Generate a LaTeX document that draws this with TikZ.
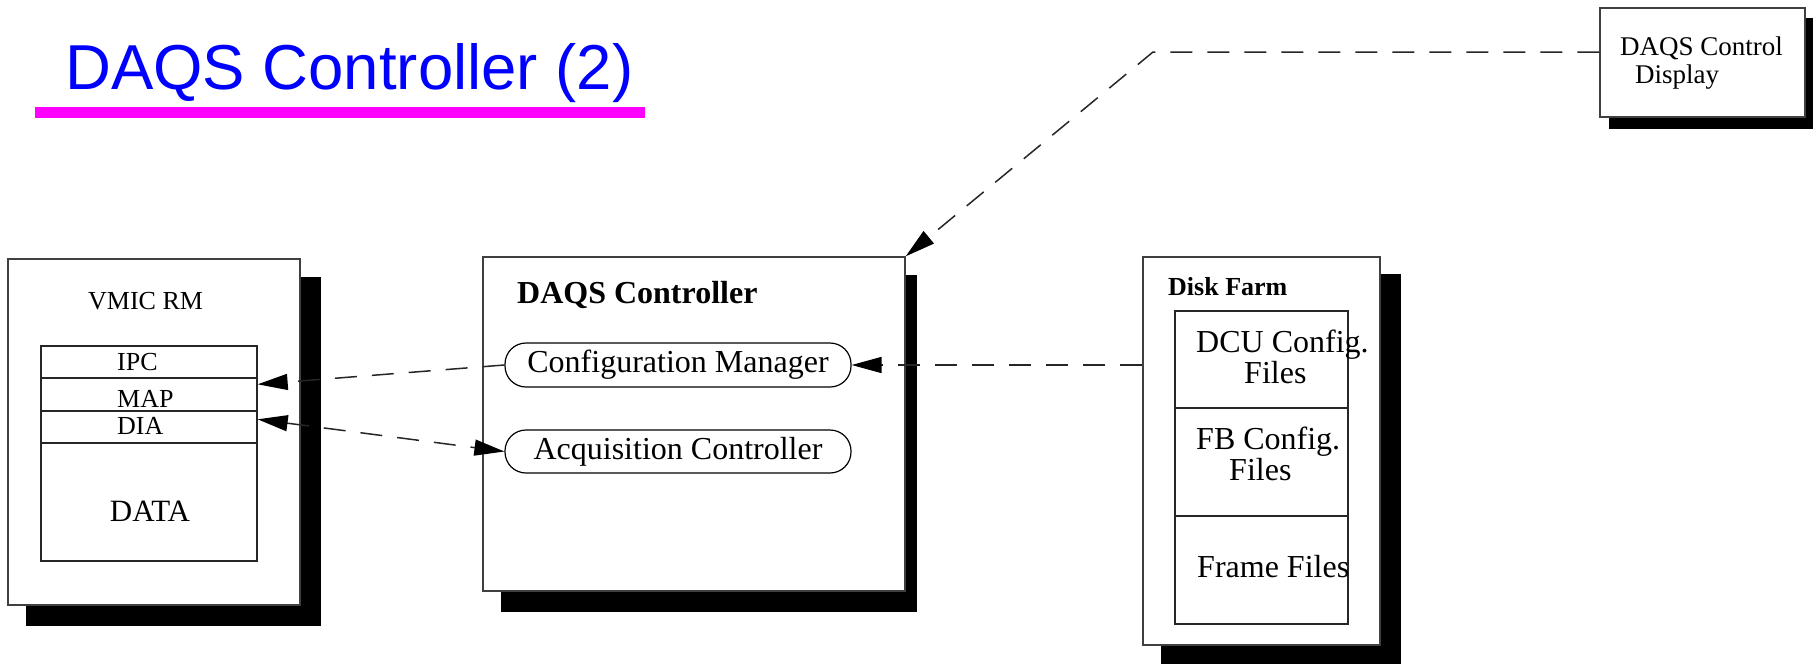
\documentclass[tikz,border=0pt]{standalone}
\usepackage{fontspec}
\setmainfont{Liberation Serif}
\newfontfamily\titlefont{Liberation Sans}
\usetikzlibrary{arrows.meta,backgrounds,calc}
\definecolor{titleblue}{RGB}{0,0,255}
\definecolor{titlebar}{RGB}{255,0,255}

\begin{document}
\begin{tikzpicture}[x=1pt,y=-1pt,
  box/.style={draw=black!75, line width=1.3pt, fill=white, inner sep=0pt},
  row/.style={draw=black!85, line width=1.4pt, inner sep=0pt, minimum width=216pt},
  pill/.style={draw=black, line width=1.2pt, rounded corners=21pt, inner sep=0pt,
    minimum width=346pt, minimum height=44pt, font=\fontsize{32}{34}\selectfont},
  lbl/.style={anchor=base west, inner sep=0pt},
  twoline/.style={anchor=base west, inner sep=0pt, align=left,
    font=\fontsize{32}{28}\selectfont},
  mid/.style={anchor=base, inner sep=0pt},
  link/.style={dash pattern=on 22pt off 15pt, line width=1.5pt, black!85},
  tip/.style={-{Triangle[length=30pt,width=16pt,color=black]}},
  twotips/.style={{Triangle[length=30pt,width=16pt,color=black]}-{Triangle[length=30pt,width=16pt,color=black]}},
  sz26/.style={font=\fontsize{26}{28}\selectfont},
  sz32/.style={font=\fontsize{32}{34}\selectfont}]
\useasboundingbox (0,0) rectangle (1813,664);

% heading
\node[lbl, font=\titlefont\fontsize{63.5}{70}\selectfont, text=titleblue] (title) at (65,89) {DAQS Controller (2)};
\fill[titlebar] (35,107) rectangle (645,118);

% control display (anchored on the baseline of its last line)
\node[box, minimum width=205pt, minimum height=109pt] (disp) at (1702.5,62.5) {};
\node[lbl, align=left, font=\fontsize{27}{28}\selectfont] (dispt) at (1620,83) {DAQS Control\\\hspace*{15pt}Display};

% VMIC reflective memory
\node[box, minimum width=292pt, minimum height=346pt] (vm) at (154,432) {};
\node[lbl, sz26] (vmt) at (88,309) {VMIC RM};
\node[row, minimum height=32pt] (ipc) at (149,362) {};
\node[row, minimum height=33pt] (map) at (149,394.5) {};
\node[row, minimum height=32pt] (dia) at (149,427) {};
\node[row, minimum height=118pt] (data) at (149,502) {};
\node[lbl, sz26] (ipct) at (117,370) {IPC};
\node[lbl, sz26] (mapt) at (117,407) {MAP};
\node[lbl, sz26] (diat) at (117,434) {DIA};
\node[mid, font=\fontsize{31}{33}\selectfont] (datat) at (150,521) {DATA};

% controller
\node[box, minimum width=422pt, minimum height=334pt] (dc) at (694,424) {};
\node[lbl, font=\bfseries\fontsize{32}{34}\selectfont] (dct) at (517,303) {DAQS Controller};
\node[pill] (cm) at (678,365) {Configuration Manager};
\node[pill, minimum height=43pt] (aq) at (678,451.5) {Acquisition Controller};

% disk farm
\node[box, minimum width=237pt, minimum height=388pt] (df) at (1261.5,451) {};
\node[lbl, font=\bfseries\fontsize{26}{28}\selectfont] (dft) at (1168,295) {Disk Farm};
\node[row, minimum width=173pt, minimum height=97pt] (dcu) at (1261.5,359.5) {};
\node[row, minimum width=173pt, minimum height=108pt] (fb) at (1261.5,462) {};
\node[row, minimum width=173pt, minimum height=108pt] (fr) at (1261.5,570) {};
\node[twoline] (dcut) at (1196,383) {DCU Config.\\\hspace*{48pt}Files};
\node[twoline] (fbt) at (1196,480) {FB Config.\\\hspace*{33pt}Files};
\node[lbl, sz32] (frt) at (1197,577) {Frame Files};

% drop shadows
\begin{scope}[on background layer]
  \fill ($(disp.north west)+(10,11)$) rectangle ($(disp.south east)+(10,11)$);
  \fill ($(vm.north west)+(19,19)$) rectangle ($(vm.south east)+(20,20)$);
  \fill ($(dc.north west)+(19,19)$) rectangle ($(dc.south east)+(11,20)$);
  \fill ($(df.north west)+(19,18)$) rectangle ($(df.south east)+(20,19)$);
\end{scope}

% connectors
\coordinate (bend) at (1153,52);
\draw[link, tip] (bend -| disp.west) -- (bend) -- (dc.north east);
\draw[link, tip] (df.west |- cm.east) -- (cm.east);
\draw[link, tip] (cm.west) -- ($(map.north east)+(0,7)$);
\draw[link, twotips] ($(dia.north east)+(0,9)$) -- (aq.west);
\end{tikzpicture}
\end{document}
